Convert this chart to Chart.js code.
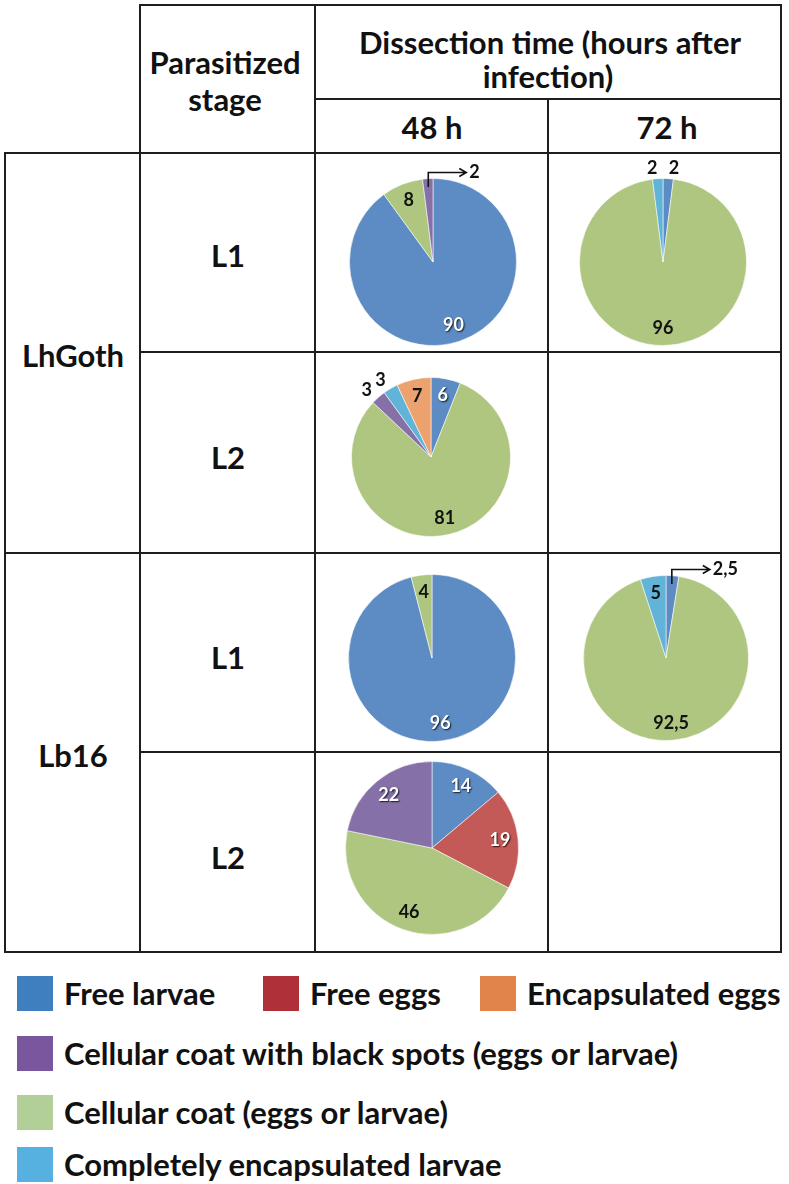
<!DOCTYPE html>
<html><head><meta charset="utf-8">
<script src="https://cdn.jsdelivr.net/npm/chart.js@4.4.1/dist/chart.umd.min.js"></script>
<style>
body{margin:0;background:#fff;}
#root{position:relative;width:789px;height:1184px;overflow:hidden;font-family:Lato,'Open Sans',sans-serif;font-weight:700;color:#111;}
.ln{position:absolute;background:#1e1e1e;}
.t{position:absolute;white-space:nowrap;transform:translate(-50%,-50%);line-height:1;}
canvas{position:absolute;}
.box{position:absolute;width:36px;height:35px;}
.lt{position:absolute;white-space:nowrap;transform:translateY(-50%);line-height:1;}
</style></head><body><div id="root"></div>
<script>
// ---------- data ----------
const categories = ['Free larvae','Free eggs','Encapsulated eggs','Cellular coat with black spots (eggs or larvae)','Cellular coat (eggs or larvae)','Completely encapsulated larvae'];
const pieColors = ['#5d8bc3','#c45a57','#eca26f','#8571a8','#aec680','#62b3d8'];
const legendColors = ['#3f7fbf','#b0303a','#e0844c','#7a569e','#b2cf98','#56b0e0'];
const labelColors = ['#fff','#fff','#111','#fff','#111','#111'];
const sliceOrder = [0,1,4,3,5,2];          // clockwise order of the slices in every pie
const strains = ['LhGoth','Lb16'];
const stages = ['L1','L2'];
const times = ['48 h','72 h'];
const headerStage = ['Parasitized','stage'];
const headerTime = ['Dissection time (hours after','infection)'];
// values in % (category order above)
const lhGothL1_48h = [90,0,0,2,8,0];
const lhGothL1_72h = [2,0,0,0,96,2];
const lhGothL2_48h = [6,0,7,3,81,3];
const lb16L1_48h   = [96,0,0,0,4,0];
const lb16L1_72h   = [2.5,0,0,0,92.5,5];
const lb16L2_48h   = [14,19,0,22,46,0];

// ---------- layout ----------
const root = document.getElementById('root');
function el(cls, css, txt){const d=document.createElement('div');d.className=cls;Object.assign(d.style,css);if(txt!==undefined)d.textContent=txt;root.appendChild(d);return d;}
const X = [5,140,315,548,781];       // column borders
const Y = [5,99,153,352,553,752,952]; // row borders
const LW = 2;
function hline(y,x1,x2){el('ln',{left:(x1-1)+'px',top:(y-1)+'px',width:(x2-x1+LW)+'px',height:LW+'px'});}
function vline(x,y1,y2){el('ln',{left:(x-1)+'px',top:(y1-1)+'px',width:LW+'px',height:(y2-y1+LW)+'px'});}
hline(Y[0],X[1],X[4]); hline(Y[1],X[2],X[4]); hline(Y[2],X[0],X[4]);
hline(Y[3],X[1],X[4]); hline(Y[4],X[0],X[4]); hline(Y[5],X[1],X[4]); hline(Y[6],X[0],X[4]);
vline(X[0],Y[2],Y[6]); vline(X[1],Y[0],Y[6]); vline(X[2],Y[0],Y[6]); vline(X[3],Y[1],Y[6]); vline(X[4],Y[0],Y[6]);

const HF = '31px';
el('t',{left:'225px',top:'62px',fontSize:HF},headerStage[0]);
el('t',{left:'225px',top:'99px',fontSize:HF},headerStage[1]);
el('t',{left:'550px',top:'42px',fontSize:HF},headerTime[0]);
el('t',{left:'548px',top:'76px',fontSize:HF},headerTime[1]);
el('t',{left:'432px',top:'127px',fontSize:HF},times[0]);
el('t',{left:'667px',top:'127px',fontSize:HF},times[1]);
el('t',{left:'73px',top:'355px',fontSize:HF},strains[0]);
el('t',{left:'73px',top:'755px',fontSize:HF},strains[1]);
[255,457,657,857].forEach((y,i)=>el('t',{left:'228px',top:y+'px',fontSize:HF},stages[i%2]));

// legend
const legendRows = [[0,1,2],[3],[4],[5]];
const legendRowY = [993,1053,1112,1164];
const legendColX = [17,263,480];
legendRows.forEach((row,ri)=>row.forEach((ci,k)=>{
  const x = legendColX[k], y = legendRowY[ri];
  el('box',{left:x+'px',top:(y-17)+'px',background:legendColors[ci]});
  el('lt',{left:(x+47)+'px',top:y+'px',fontSize:'31px'},categories[ci]);
}));

// ---------- pies ----------
const fmt = v => String(v).replace('.',',');
const sliceLabels = {
  id:'sliceLabels',
  afterDatasetsDraw(chart){
    const o = chart.options.plugins.sliceLabels;
    const ctx = chart.ctx, meta = chart.getDatasetMeta(0), ds = chart.data.datasets[0];
    ctx.save();
    ctx.font = 'bold 18px Lato, sans-serif';
    ctx.textBaseline = 'middle';
    meta.data.forEach((arc,i)=>{
      const v = ds.data[i]; if(!v) return;
      const cat = ds.cat[i];
      const p = arc.getProps(['x','y','startAngle','endAngle','outerRadius'],true);
      const mid = (p.startAngle+p.endAngle)/2, r = p.outerRadius;
      const cs = Math.cos(mid), sn = Math.sin(mid);
      if((o.arrow||[]).includes(cat)){
        const sx = p.x + 0.9*r*cs, sy = p.y + 0.9*r*sn;
        const ty = p.y - r - 6, tx = sx + 38;
        ctx.strokeStyle = '#111'; ctx.lineWidth = 1.6;
        ctx.beginPath(); ctx.moveTo(sx,sy); ctx.lineTo(sx,ty); ctx.lineTo(tx,ty);
        ctx.moveTo(tx-7,ty-4); ctx.lineTo(tx,ty); ctx.lineTo(tx-7,ty+4); ctx.stroke();
        ctx.fillStyle = '#111'; ctx.textAlign='left';
        ctx.fillText(fmt(v), tx+3, ty);
        return;
      }
      ctx.textAlign = 'center';
      if(v <= 3){
        const d = r + 10;
        let x = p.x + d*cs, y = p.y + d*sn;
        x += (sn < 0 ? (cs > 0 ? 5 : -5) : 0);
        ctx.fillStyle = '#111';
        ctx.fillText(fmt(v), x, y);
      } else {
        const d = 0.79*r;
        const x = p.x + d*cs, y = p.y + d*sn;
        ctx.fillStyle = labelColors[cat];
        if(labelColors[cat] === '#fff'){
          ctx.shadowColor='rgba(0,0,0,0.8)'; ctx.shadowOffsetX=1; ctx.shadowOffsetY=1; ctx.shadowBlur=1.5;
        }
        ctx.fillText(fmt(v), x, y);
        ctx.shadowColor='transparent'; ctx.shadowOffsetX=0; ctx.shadowOffsetY=0; ctx.shadowBlur=0;
      }
    });
    ctx.restore();
  }
};

const pies = [
  {data:lhGothL1_48h, cx:433, cy:262, r:84, arrow:[3]},
  {data:lhGothL1_72h, cx:663, cy:262, r:84},
  {data:lhGothL2_48h, cx:431, cy:457, r:80},
  {data:lb16L1_48h,   cx:432, cy:658, r:84},
  {data:lb16L1_72h,   cx:666, cy:658, r:83, arrow:[0]},
  {data:lb16L2_48h,   cx:432, cy:848, r:87}
];
const PADX = 60, PADY = 30;
pies.forEach(pc=>{
  const c = document.createElement('canvas');
  const w = 2*pc.r + 2*PADX, h = 2*pc.r + 2*PADY;
  c.width = w; c.height = h;
  c.style.left = (pc.cx - pc.r - PADX)+'px'; c.style.top = (pc.cy - pc.r - PADY)+'px';
  c.style.width = w+'px'; c.style.height = h+'px';
  root.appendChild(c);
  new Chart(c,{
    type:'pie',
    data:{
      labels: sliceOrder.map(i=>categories[i]),
      datasets:[{
        data: sliceOrder.map(i=>pc.data[i]),
        cat: sliceOrder,
        backgroundColor: sliceOrder.map(i=>pieColors[i]),
        borderColor:'rgba(255,255,255,0.55)', borderWidth:1
      }]
    },
    options:{
      responsive:false, animation:false, devicePixelRatio:1,
      layout:{padding:{left:PADX,right:PADX,top:PADY,bottom:PADY}},
      plugins:{legend:{display:false},tooltip:{enabled:false},sliceLabels:{arrow:pc.arrow||[]}}
    },
    plugins:[sliceLabels]
  });
});
</script></body></html>
